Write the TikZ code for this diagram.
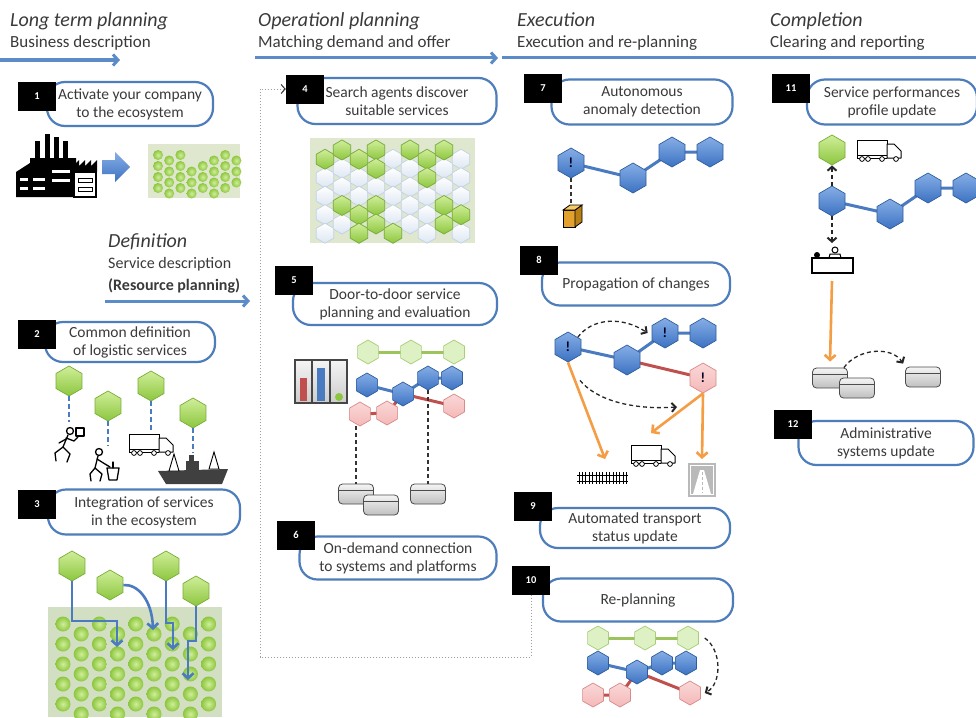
\documentclass[tikz,border=0pt]{standalone}
\usepackage{fontspec}
\setmainfont{Carlito}
\usetikzlibrary{shapes.geometric,arrows.meta,calc}

\definecolor{hdrblue}{HTML}{5B8BC9}
\definecolor{pillblue}{HTML}{4E7DBB}
\definecolor{hexblue}{HTML}{3C72C2}
\definecolor{hexblueL}{HTML}{86AEE6}
\definecolor{hexblueD}{HTML}{2F5E9E}
\definecolor{lime}{HTML}{8CC63E}
\definecolor{limeL}{HTML}{D0EE9A}
\definecolor{limeD}{HTML}{79AD35}
\definecolor{paleg}{HTML}{DDF1C4}
\definecolor{palegD}{HTML}{A7CE74}
\definecolor{pinkh}{HTML}{F5B8B8}
\definecolor{pinkD}{HTML}{D98A8A}
\definecolor{frost}{HTML}{DCE6F2}
\definecolor{frostD}{HTML}{C3D1E2}
\definecolor{panelg}{HTML}{DFE7CF}
\definecolor{panelgg}{HTML}{D3DFC3}
\definecolor{orangearr}{HTML}{F59D45}
\definecolor{redline}{HTML}{C0504D}
\definecolor{greenline}{HTML}{9DC35C}
\definecolor{blueline}{HTML}{4A7AC0}
\definecolor{txtgrey}{HTML}{3A3A3A}
\definecolor{cargo}{HTML}{E2A12C}
\definecolor{cargoL}{HTML}{F6CB62}
\definecolor{cargoD}{HTML}{B97F17}

\pgfdeclarelayer{base}
\pgfdeclarelayer{links}
\pgfsetlayers{base,links,main}

\tikzset{
  hdr/.style={font=\itshape\fontsize{20}{24}\selectfont, text=txtgrey, anchor=base west, inner sep=0pt},
  subhdr/.style={font=\fontsize{17}{20}\selectfont, text=txtgrey, anchor=base west, inner sep=0pt},
  hdrarrow/.style={draw=hdrblue, line width=3pt, -{Straight Barb[length=5pt,width=11pt]}},
  hdrline/.style={draw=hdrblue, line width=3pt},
  numbox/.style={fill=black, minimum width=38pt, minimum height=29pt, inner sep=0pt, text=white, font=\bfseries\fontsize{10.5}{12}\selectfont},
  pill/.style={draw=pillblue, line width=2.2pt, fill=white, rounded corners=18pt, inner sep=0pt, align=center, text=txtgrey, font=\fontsize{15.5}{18}\selectfont},
  hexbase/.style={regular polygon, regular polygon sides=6, shape border rotate=30, inner sep=0pt, line width=0.7pt},
  hexb/.style={hexbase, minimum size=#1, draw=hexblueD, top color=hexblueL, bottom color=hexblue},
  hexb/.default=30pt,
  hexg/.style={hexbase, minimum size=#1, draw=limeD, top color=limeL, bottom color=lime},
  hexg/.default=30pt,
  hexp/.style={hexbase, minimum size=#1, draw=palegD, fill=paleg},
  hexp/.default=24pt,
  hexr/.style={hexbase, minimum size=#1, draw=pinkD, top color=pinkh!55!white, bottom color=pinkh},
  hexr/.default=24pt,
  hexf/.style={hexbase, minimum size=20pt, draw=frostD, top color=white, bottom color=frost},
  alert/.style={font=\bfseries\fontsize{14}{14}\selectfont, text=black!85!blue},
  bluelink/.style={draw=blueline, line width=3pt},
  greenlink/.style={draw=greenline, line width=3pt},
  redlink/.style={draw=redline, line width=3pt},
  dashlink/.style={draw=black!80, line width=1.4pt, dash pattern=on 4pt off 3pt},
  bluedash/.style={draw=blueline, line width=2.5pt, dash pattern=on 5pt off 3pt},
  curvearrow/.style={draw=black!85, line width=1.3pt, dash pattern=on 4pt off 3pt, -{Straight Barb[length=4pt,width=9pt,line width=2pt]}},
  orangearrow/.style={draw=orangearr, line width=2.6pt, -{Straight Barb[length=5pt,width=11pt]}},
  bluearrow/.style={draw=blueline, line width=2.6pt, -{Straight Barb[length=5pt,width=11pt]}},
  dotline/.style={draw=gray!75, line width=1pt, dash pattern=on 1pt off 2pt},
  db/.style={draw=gray!60!black, line width=0.8pt, rounded corners=4pt, minimum width=35pt, minimum height=20pt, inner sep=0pt, top color=gray!8, bottom color=gray!50,
    path picture={\draw[gray!60!black, line width=0.6pt] ([yshift=-6pt]path picture bounding box.north west) -- ([yshift=-6pt]path picture bounding box.north east);}},
  truckicon/.pic={
    \draw[line width=1pt, fill=white] (0,0) rectangle (30,15);
    \draw[line width=1pt, fill=white, line join=round] (30,4) -- (37,4) -- (44,11) -- (44,18) -- (30,18) -- cycle;
    \draw[line width=1pt] (0,15) -- (0,18) -- (30,18);
    \foreach \wx in {5,11,25,39}{\draw[line width=0.8pt, fill=white] (\wx,19) circle (2.4pt);}
  },
}

\begin{document}
\begin{tikzpicture}[x=1pt,y=-1pt]
\useasboundingbox (0,0) rectangle (976,717);
\begin{pgfonlayer}{base}
  \fill[white] (0,0) rectangle (976,717);
\end{pgfonlayer}

% ---------- phase headers ----------
\node[hdr] (t1) at (10,27) {Long term planning};
\node[subhdr] (s1) at (10,48) {Business description};
\node[hdr] (t2) at (258,27) {Operationl planning};
\node[subhdr] (s2) at (258,48) {Matching demand and offer};
\node[hdr] (t3) at (517,27) {Execution};
\node[subhdr] (s3) at (517,48) {Execution and re-planning};
\node[hdr] (t4) at (770,27) {Completion};
\node[subhdr] (s4) at (770,48) {Clearing and reporting};
\coordinate (ar1a) at (0,60);   \coordinate (ar1b) at (120,60);
\coordinate (ar2a) at (255,58); \coordinate (ar2b) at (498,58);
\coordinate (ar3a) at (502,58); \coordinate (ar3b) at (976,58);
\draw[hdrarrow] (ar1a) -- (ar1b);
\draw[hdrarrow] (ar2a) -- (ar2b);
\draw[hdrline] (ar3a) -- (ar3b);

\node[hdr] (t5) at (108,247) {Definition};
\node[subhdr, font=\fontsize{16}{20}\selectfont] (s5) at (108,268) {Service description};
\node[subhdr, font=\bfseries\fontsize{16}{20}\selectfont] (s6) at (108,290) {(Resource planning)};
\coordinate (ar4a) at (105,301); \coordinate (ar4b) at (250,301);
\draw[hdrarrow] (ar4a) -- (ar4b);

% ---------- numbered steps ----------
\node[pill, minimum width=166pt, minimum height=44pt] (p1) at (130,104) {Activate your company\\to the ecosystem};
\node[numbox] (n1) at (37,96) {1};
\node[pill, minimum width=170pt, minimum height=40pt] (p2) at (130,342) {Common definition\\of logistic services};
\node[numbox] (n2) at (37,334) {2};
\node[pill, minimum width=192pt, minimum height=45pt] (p3) at (144,512) {Integration of services\\in the ecosystem};
\node[numbox] (n3) at (37,504) {3};
\node[pill, minimum width=199pt, minimum height=46pt] (p4) at (397,101) {Search agents discover\\suitable services};
\node[numbox] (n4) at (305,89) {4};
\node[pill, minimum width=204pt, minimum height=42pt] (p5) at (395,304) {Door-to-door service\\planning and evaluation};
\node[numbox] (n5) at (294,280) {5};
\node[pill, minimum width=197pt, minimum height=43pt] (p6) at (398,558) {On-demand connection\\to systems and platforms};
\node[numbox] (n6) at (296,535) {6};
\node[pill, minimum width=181pt, minimum height=45pt] (p7) at (642,102) {Autonomous\\anomaly detection};
\node[numbox] (n7) at (543,88) {7};
\node[pill, minimum width=188pt, minimum height=43pt] (p8) at (636,284) {Propagation of changes};
\node[numbox] (n8) at (539,260) {8};
\node[pill, minimum width=190pt, minimum height=40pt] (p9) at (635,528) {Automated transport\\status update};
\node[numbox] (n9) at (533,506) {9};
\node[pill, minimum width=190pt, minimum height=43pt] (p10) at (638,600) {Re-planning};
\node[numbox] (n10) at (531,580) {10};
\node[pill, minimum width=170pt, minimum height=45pt] (p11) at (892,102) {Service performances\\profile update};
\node[numbox] (n11) at (791,88) {11};
\node[pill, minimum width=175pt, minimum height=44pt] (p12) at (886,443) {Administrative\\systems update};
\node[numbox] (n12) at (793,424) {12};

% dotted loop from re-planning back to the service search
\coordinate (loopc) at (260,657);
\draw[dotline, -{Straight Barb[length=4pt,width=9pt,color=black!80]}] (n10.south) |- (loopc) |- (n4.west);

% ---------- 1: factory joining the ecosystem ----------
\fill (35,141) rectangle (40,166);
\fill (45,134) rectangle (50,160);
\fill (54,137) rectangle (59,160);
\fill (63,141) rectangle (68,160);
\fill (16,172) -- (30,163) -- (30,158) -- (76,158) -- (76,197) -- (16,197) -- cycle;
\fill (73,166) -- (79,160) -- (79,166) -- (85,160) -- (85,166) -- (91,160) -- (91,166) -- (97,160) -- (97,172) -- (73,172) -- cycle;
\draw[line width=1.2pt, fill=white] (74,172) rectangle (96,197);
\foreach \wy in {178,187}{
  \fill[white] (20,\wy) rectangle (28,\wy+3);
  \fill[white] (33,\wy) rectangle (45,\wy+3);
  \fill[white] (52,\wy-8) rectangle (70,\wy-5);
  \draw[line width=0.8pt] (78,\wy) rectangle (92,\wy+4);
}
\shade[top color=hexblueL, bottom color=hexblue] (102,160) -- (115,160) -- (115,152) -- (130,167) -- (115,182) -- (115,174) -- (102,174) -- cycle;
\fill[panelg] (148,144) rectangle (240,198);
\foreach \c in {0,...,7}{
  \foreach \r in {0,...,3}{
    \pgfmathsetmacro{\bx}{158+\c*11.2}
    \pgfmathsetmacro{\by}{155+\r*11+mod(\c,2)*5.5}
    \pgfmathtruncatemacro{\gap}{((\c==3)&&(\r==0)) || ((\c==4)&&(\r==0)) || ((\c==7)&&(\r==3)) ? 1 : 0}
    \ifnum\gap=0
      \shade[inner color=limeL, outer color=lime] (\bx,\by) circle (5pt);
    \fi
  }
}

% ---------- 2: logistic services ----------
\node[hexg] (h2a) at (69,381) {};
\node[hexg] (h2b) at (108,406) {};
\node[hexg] (h2c) at (151,386) {};
\node[hexg] (h2d) at (193,413) {};
\coordinate (ic2a) at (69,422);
\coordinate (ic2b) at (108,446);
\coordinate (ic2c) at (151,430);
\coordinate (ic2d) at (193,453);
\draw[bluedash] (h2a.south) -- (ic2a);
\draw[bluedash] (h2b.south) -- (ic2b);
\draw[bluedash] (h2c.south) -- (ic2c);
\draw[bluedash] (h2d.south) -- (ic2d);
\begin{scope}[line width=1.3pt, line cap=round, line join=round]
  % courier
  \draw (70,431) circle (3.5pt);
  \draw (68,435) -- (63,447);
  \draw (63,447) -- (55,453) -- (56,461);
  \draw (63,447) -- (70,454) -- (67,462);
  \draw (66,438) -- (74,441) -- (78,437);
  \draw (66,439) -- (59,443);
  \draw[fill=white] (76,428) rectangle (84,436);
  % handler with bucket
  \draw (99,452) circle (3.5pt);
  \draw (98,456) -- (95,468);
  \draw (95,468) -- (90,474) -- (91,481);
  \draw (95,468) -- (102,474) -- (100,481);
  \draw (97,459) -- (105,464) -- (110,467);
  \draw[fill=white] (107,468) -- (119,468) -- (117,480) -- (109,480) -- cycle;
  \draw (113,468) -- (113,462);
\end{scope}
\pic at (129,434) {truckicon};
\fill[black!75] (158,471) -- (228,469) -- (222,484) -- (166,484) -- cycle;
\fill[black!75] (186,461) rectangle (199,471);
\fill[black!75] (189,455) rectangle (194,461);
\draw[line width=0.9pt, fill=white] (169,471) -- (174,454) -- (179,471) -- cycle;
\draw[line width=0.9pt, fill=white] (209,469) -- (214,452) -- (219,469) -- cycle;

% ---------- 3: integration into the ecosystem ----------
\fill[panelgg] (48,607) rectangle (222,717);
\foreach \c in {0,...,8}{
  \foreach \r in {0,...,4}{
    \pgfmathsetmacro{\bx}{63+\c*18.2}
    \pgfmathsetmacro{\by}{624+\r*20+mod(\c,2)*10}
    \shade[inner color=limeL, outer color=lime] (\bx,\by) circle (7.5pt);
  }
}
\node[hexg] (h3a) at (72,566) {};
\node[hexg] (h3b) at (110,585) {};
\node[hexg] (h3c) at (166,566) {};
\node[hexg] (h3d) at (196,591) {};
\coordinate (e3a) at (117,647);
\coordinate (e3b) at (153,630);
\coordinate (e3c) at (173,650);
\coordinate (e3d) at (188,680);
\draw[bluearrow] (h3a.south) |- (117,621) -- (e3a);
\draw[bluearrow] (h3b.east) .. controls (138,584) and (152,600) .. (e3b);
\draw[bluearrow] (h3c.south) |- (173,623) -- (e3c);
\draw[bluearrow] (h3d.south) |- (188,641) -- (e3d);

% ---------- 4: service discovery ----------
\fill[panelg] (310,138) rectangle (475,243);
\foreach \c in {0,...,8}{
  \foreach \r in {0,...,4}{
    \pgfmathsetmacro{\hx}{325+\c*17}
    \pgfmathsetmacro{\hy}{150+\r*18.5+mod(\c+1,2)*9.25}
    \node[hexf] (pf-\c-\r) at (\hx,\hy) {};
  }
}
\foreach \c/\r in {0/0,1/0,1/3,2/0,2/3,2/4,3/0,3/1,3/3,3/4,4/4,5/0,6/0,6/1,7/0,7/3,7/4,8/3}{
  \pgfmathsetmacro{\hx}{325+\c*17}
  \pgfmathsetmacro{\hy}{150+\r*18.5+mod(\c+1,2)*9.25}
  \node[hexg=20pt] (pg-\c-\r) at (\hx,\hy) {};
}

% ---------- 5/6: door-to-door plan and systems ----------
\shade[top color=gray!8, bottom color=gray!40] (295,360) rectangle (347,403);
\draw[gray!55!black, line width=1.2pt] (295,360) rectangle (347,403);
\draw[gray!55!black, line width=1.2pt] (312,360) -- (312,403) (330,360) -- (330,403);
\fill[redline] (300,378) rectangle (307,401);
\fill[blueline] (317,368) rectangle (325,401);
\fill[lime] (339,397) circle (4pt);

\node[hexp] (g5a) at (368,352) {};
\node[hexp] (g5b) at (411,352) {};
\node[hexp] (g5c) at (454,352) {};
\node[hexb=24pt] (b5a) at (367,385) {};
\node[hexb=24pt] (b5b) at (403,394) {};
\node[hexb=24pt] (b5c) at (428,378) {};
\node[hexb=24pt] (b5d) at (452,378) {};
\node[hexr] (r5a) at (360,414) {};
\node[hexr] (r5b) at (387,413) {};
\node[hexr] (r5c) at (454,406) {};
\node[db] (db1) at (356,494) {};
\node[db] (db2) at (381,505) {};
\node[db] (db3) at (428,494) {};
\draw[dashlink] (db1.north |- r5a.south) -- (db1.north);
\draw[dashlink] (b5c.south) -- (db3.north);
\begin{pgfonlayer}{links}
  \draw[greenlink] (g5a.center) -- (g5b.center) -- (g5c.center);
  \draw[bluelink] (b5a.center) -- (b5b.center) -- (b5c.center) -- (b5d.center);
  \draw[redlink] (r5a.center) -- (r5b.center) -- (b5b.center) -- (r5c.center);
\end{pgfonlayer}

% ---------- 7: anomaly detection ----------
\node[hexb, alert] (h7a) at (571,163) {!};
\node[hexb] (h7b) at (633,178) {};
\node[hexb] (h7c) at (672,152) {};
\node[hexb] (h7d) at (710,152) {};
\begin{pgfonlayer}{links}
  \draw[bluelink] (h7a.center) -- (h7b.center) -- (h7c.center) -- (h7d.center);
\end{pgfonlayer}
\coordinate (parcel) at (571,204);
\draw[dashlink] (h7a.south) -- (parcel);
\draw[line width=0.8pt, fill=cargo] (563,210) rectangle (575,227);
\draw[line width=0.8pt, fill=cargoD] (575,210) -- (582,205) -- (582,222) -- (575,227) -- cycle;
\draw[line width=0.8pt, fill=cargoL] (563,210) -- (570,205) -- (582,205) -- (575,210) -- cycle;

% ---------- 8/9: propagation and transport status ----------
\node[hexb, alert] (h8a) at (568,347) {!};
\node[hexb] (h8b) at (627,360) {};
\node[hexb, alert] (h8c) at (665,333) {!};
\node[hexb] (h8d) at (703,333) {};
\node[hexr=30pt, alert] (h8r) at (703,378) {!};
\begin{pgfonlayer}{links}
  \draw[bluelink] (h8a.center) -- (h8b.center) -- (h8c.center) -- (h8d.center);
  \draw[redlink] (h8b.center) -- (h8r.center);
\end{pgfonlayer}
\coordinate (c8b) at (677,407);
\draw[curvearrow] (h8a.north east) .. controls (592,318) and (622,316) .. ([xshift=-4pt]h8c.west);
\draw[curvearrow] ($(h8a.south)+(12,18)$) .. controls (596,400) and (632,410) .. (c8b);
\coordinate (railtop) at (605,459);
\coordinate (trucktop) at (651,433);
\coordinate (roadtop) at (702,459);
\draw[orangearrow] (h8a.south) -- (railtop);
\draw[orangearrow] (h8r.south) -- (trucktop);
\draw[orangearrow] (h8r.south) -- (roadtop);
\draw[line width=0.9pt] (577,475) -- (628,475) (577,481) -- (628,481);
\foreach \i in {0,...,14}{\draw[line width=0.9pt] ({579+\i*3.4},472) -- ++(0,12);}
\pic at (631,445) {truckicon};
\fill[gray!55] (688,463) rectangle (716,497);
\draw[white, line width=1pt] (690.5,465.5) rectangle (713.5,494.5);
\fill[white] (693,494) -- (700,470) -- (704,470) -- (711,494) -- cycle;
\draw[gray!55, line width=1pt, dash pattern=on 3pt off 2pt] (702,472) -- (702,493);

% ---------- 10: re-planning ----------
\node[hexp] (g10a) at (598,638) {};
\node[hexp] (g10b) at (645,638) {};
\node[hexp] (g10c) at (688,638) {};
\node[hexb=24pt] (b10a) at (598,663) {};
\node[hexb=24pt] (b10b) at (637,672) {};
\node[hexb=24pt] (b10c) at (662,663) {};
\node[hexb=24pt] (b10d) at (686,663) {};
\node[hexr] (r10a) at (593,695) {};
\node[hexr] (r10b) at (620,695) {};
\node[hexr] (r10c) at (690,693) {};
\begin{pgfonlayer}{links}
  \draw[greenlink] (g10a.center) -- (g10b.center) -- (g10c.center);
  \draw[bluelink] (b10a.center) -- (b10b.center) -- (b10c.center) -- (b10d.center);
  \draw[redlink] (r10a.center) -- (r10b.center) -- (b10b.center) -- (r10c.center);
\end{pgfonlayer}
\draw[curvearrow] ([xshift=6pt]g10c.east) .. controls (722,650) and (722,684) .. ([xshift=4pt]r10c.east);

% ---------- 11/12: performance profile and administration ----------
\node[hexg] (h11g) at (832,150) {};
\pic at (857,140) {truckicon};
\node[hexb] (h11a) at (832,201) {};
\node[hexb] (h11b) at (890,214) {};
\node[hexb] (h11c) at (928,188) {};
\node[hexb] (h11d) at (966,188) {};
\begin{pgfonlayer}{links}
  \draw[bluelink] (h11a.center) -- (h11b.center) -- (h11c.center) -- (h11d.center);
\end{pgfonlayer}
\draw[curvearrow] (h11a.north) -- (h11g.south);
\coordinate (desktop) at (832,243);
\draw[curvearrow] (h11a.south) -- (desktop);
\draw[line width=1pt] (835,250) circle (3pt);
\draw[line width=1pt] (829,258) -- (830,254) -- (840,254) -- (841,258);
\fill (817,255) circle (3pt);
\draw[line width=1.2pt, fill=white] (812,258) rectangle (853,273);
\coordinate (deskbase) at (832,281);
\node[db] (db4) at (830,378) {};
\node[db] (db5) at (857,388) {};
\node[db] (db6) at (923,377) {};
\draw[orangearrow] (deskbase) -- ([yshift=6pt]db4.north);
\draw[curvearrow] ([xshift=-4pt]db4.north east) .. controls (858,348) and (892,346) .. ([xshift=-2pt,yshift=3pt]db6.north west);

\end{tikzpicture}
\end{document}
